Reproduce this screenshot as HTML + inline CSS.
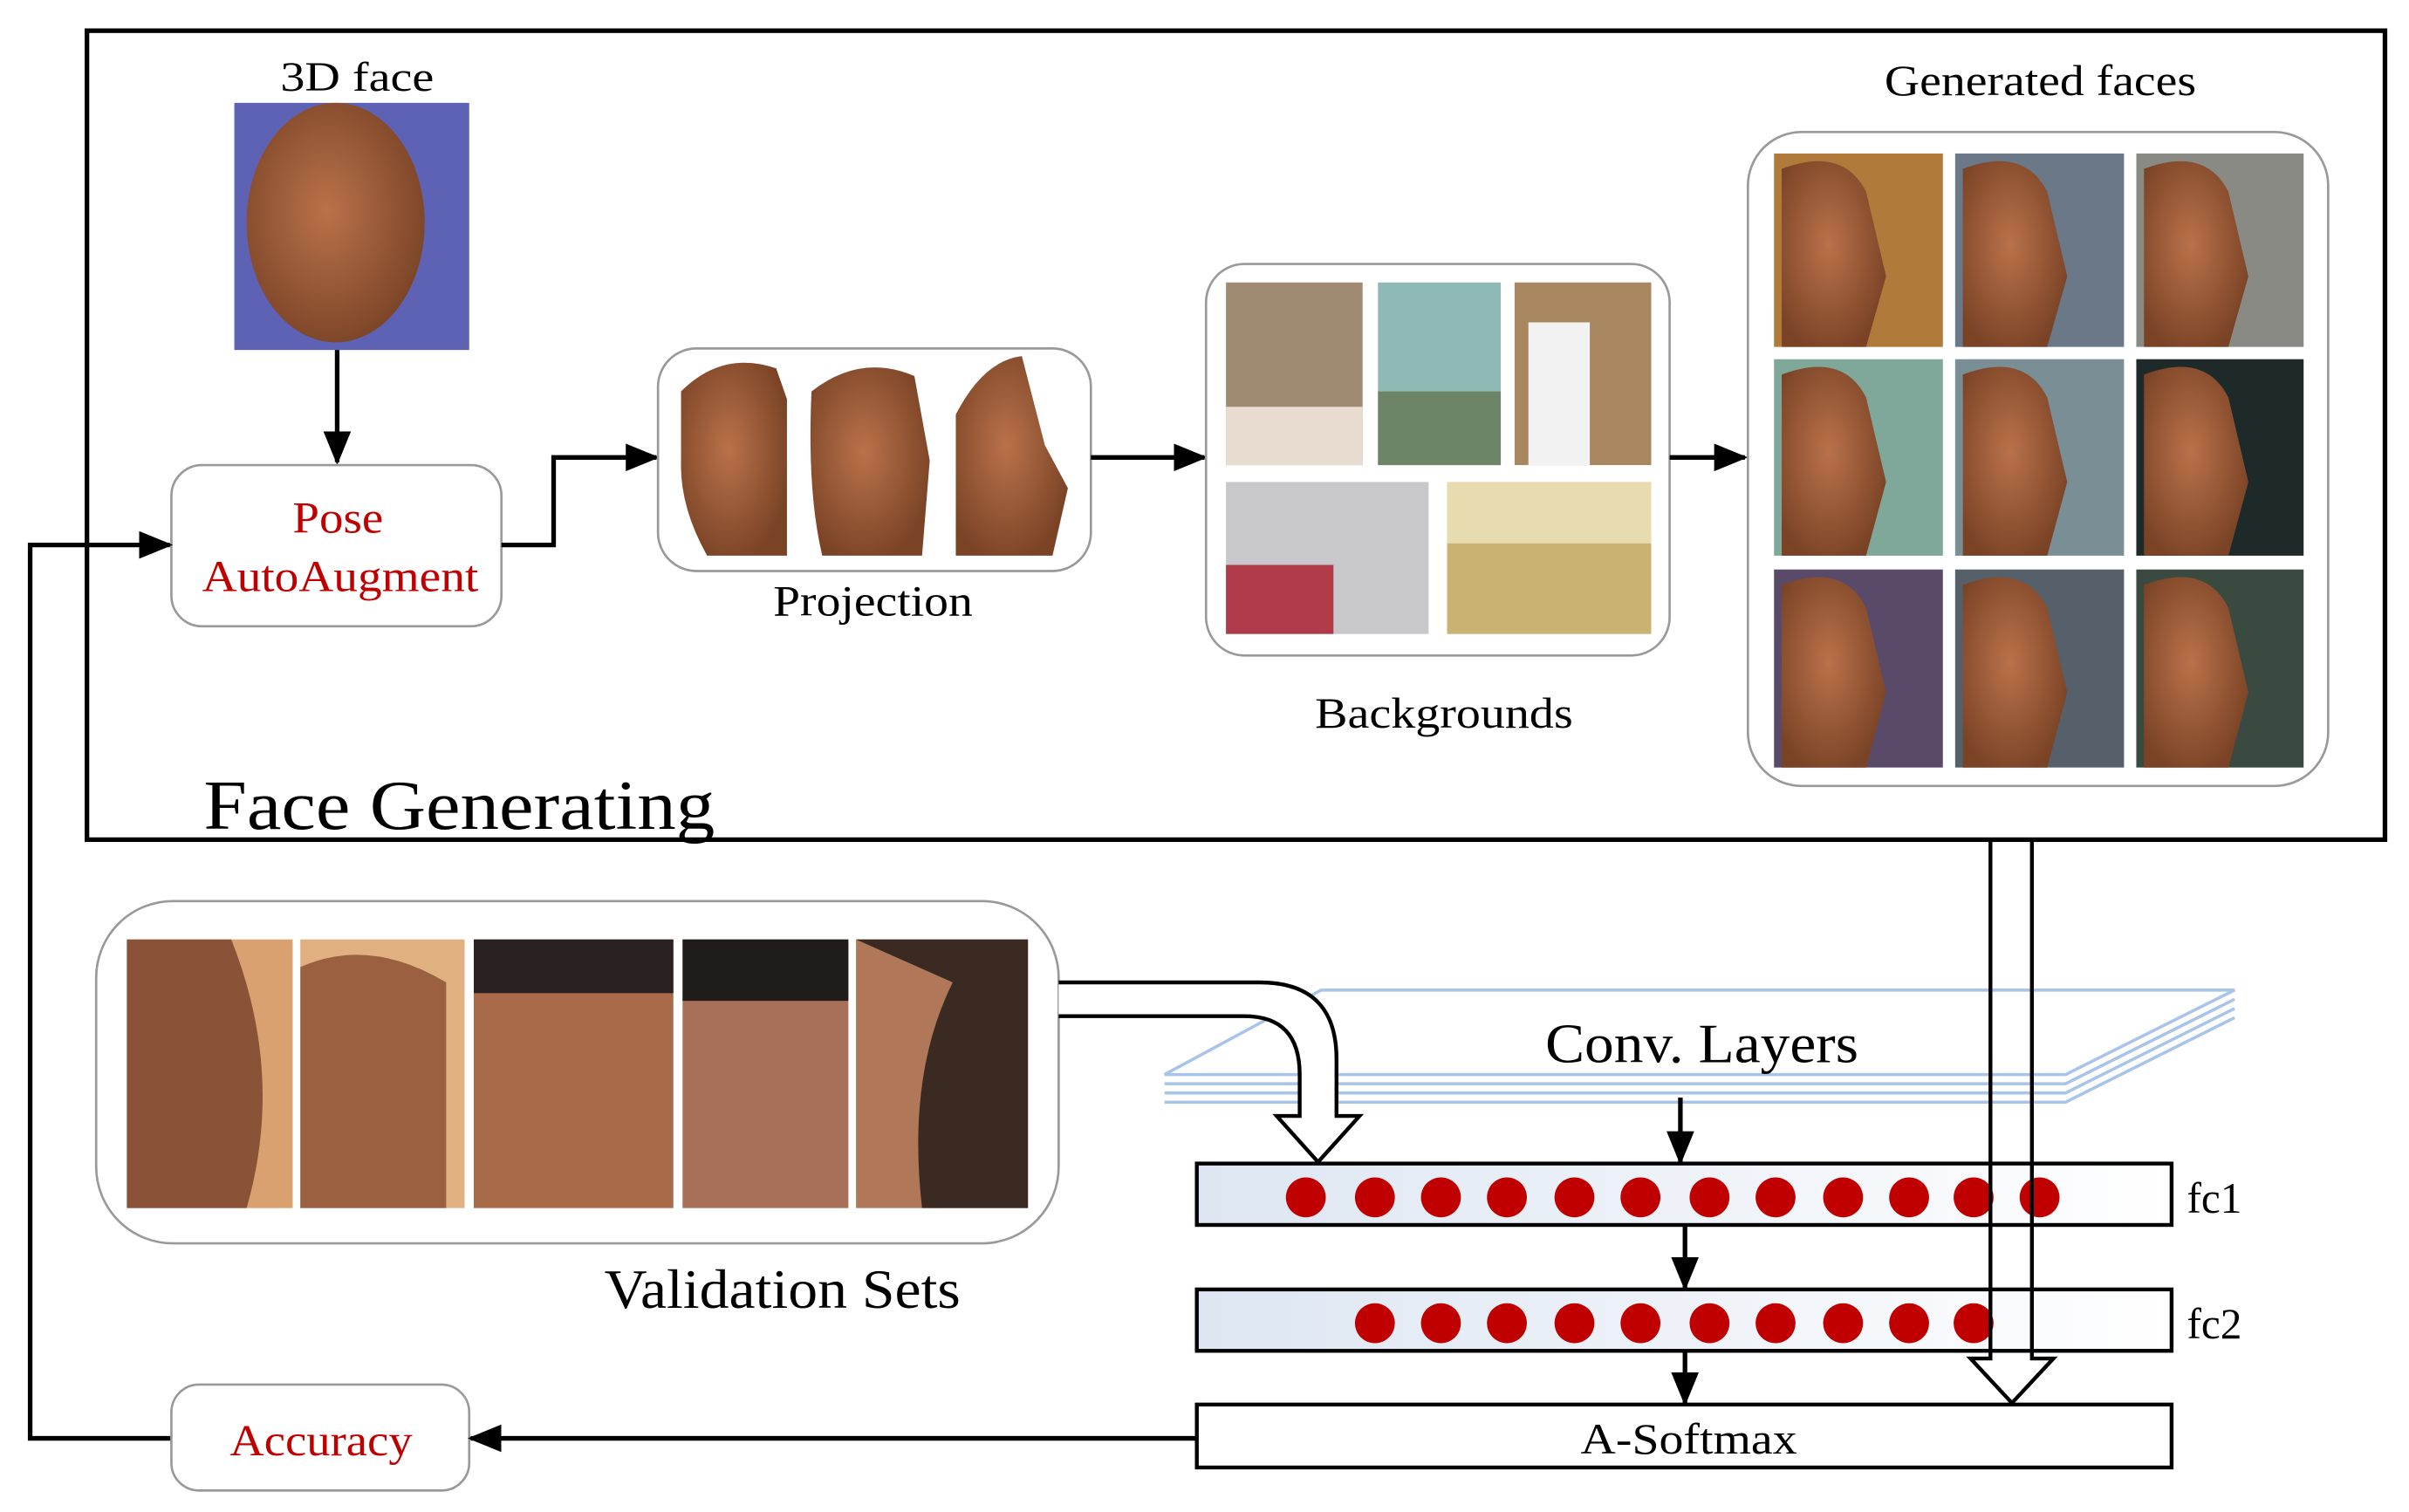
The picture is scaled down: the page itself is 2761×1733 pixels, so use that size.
<!DOCTYPE html>
<html><head><meta charset="utf-8"><style>
html,body{margin:0;padding:0;background:#fff;}
svg{display:block}
text{font-family:"Liberation Serif",serif;fill:#000}
</style></head><body>
<svg width="2761" height="1733" viewBox="0 0 1568 985" xmlns="http://www.w3.org/2000/svg">
<defs>
<marker id="ah" markerWidth="22" markerHeight="18" refX="20" refY="9" orient="auto" markerUnits="userSpaceOnUse" viewBox="0 0 22 18"><path d="M0,0 L22,9 L0,18 z" fill="#000"/></marker>
<linearGradient id="fcg" x1="0" x2="1"><stop offset="0" stop-color="#dde6f2"/><stop offset="1" stop-color="#ffffff"/></linearGradient>
<radialGradient id="skin" cx="0.45" cy="0.45" r="0.6"><stop offset="0" stop-color="#b9724a"/><stop offset="1" stop-color="#7a4326"/></radialGradient>
</defs>
<rect width="1568" height="985" fill="#fff"/>
<rect x="56" y="20" width="1497" height="527" fill="none" stroke="#000" stroke-width="3"/>
<text x="182" y="59" font-size="27" textLength="100" lengthAdjust="spacingAndGlyphs">3D face</text>
<rect x="152" y="67" width="153" height="161" fill="#5e62b4"/>
<ellipse cx="218" cy="145" rx="58" ry="78" fill="url(#skin)"/>
<line x1="219" y1="228" x2="219" y2="301" stroke="#000" stroke-width="3" marker-end="url(#ah)"/>
<rect x="111" y="303" width="215" height="105" rx="20" fill="#fff" stroke="#999" stroke-width="1.5"/>
<text x="190" y="347" font-size="29" textLength="59" lengthAdjust="spacingAndGlyphs" style="fill:#c00000">Pose</text>
<text x="131" y="385" font-size="29" textLength="180" lengthAdjust="spacingAndGlyphs" style="fill:#c00000">AutoAugment</text>
<polyline points="326,355 360,355 360,298 427,298" fill="none" stroke="#000" stroke-width="3" marker-end="url(#ah)"/>
<rect x="428" y="227" width="282" height="145" rx="25" fill="#fff" stroke="#999" stroke-width="1.5"/>
<path d="M443,255 Q470,228 505,240 L512,260 L512,362 L460,362 Q442,330 443,300 Z" fill="url(#skin)"/>
<path d="M528,255 Q560,230 595,245 L605,300 L600,362 L535,362 Q525,320 528,255 Z" fill="url(#skin)"/>
<path d="M622,270 Q640,235 665,232 L680,290 L695,318 L685,362 L622,362 Z" fill="url(#skin)"/>
<text x="503" y="401" font-size="28" textLength="130" lengthAdjust="spacingAndGlyphs">Projection</text>
<line x1="710" y1="298" x2="784" y2="298" stroke="#000" stroke-width="3" marker-end="url(#ah)"/>
<rect x="785" y="172" width="302" height="255" rx="25" fill="#fff" stroke="#999" stroke-width="1.5"/>
<rect x="798" y="184" width="89" height="119" fill="#a08a72"/><rect x="798" y="265" width="89" height="38" fill="#e8dcd0"/>
<rect x="897" y="184" width="80" height="119" fill="#8fb9b4"/><rect x="897" y="255" width="80" height="48" fill="#6e8466"/>
<rect x="986" y="184" width="89" height="119" fill="#a88660"/><rect x="995" y="210" width="40" height="93" fill="#f2f2f2"/>
<rect x="798" y="314" width="132" height="99" fill="#c8c8cc"/><rect x="798" y="368" width="70" height="45" fill="#b03a48"/>
<rect x="942" y="314" width="133" height="99" fill="#c9b272"/><rect x="942" y="314" width="133" height="40" fill="#e6dcb0"/>
<text x="856" y="474" font-size="28" textLength="168" lengthAdjust="spacingAndGlyphs">Backgrounds</text>
<line x1="1087" y1="298" x2="1136" y2="298" stroke="#000" stroke-width="3" marker-end="url(#ah)"/>
<text x="1227" y="62" font-size="28" textLength="203" lengthAdjust="spacingAndGlyphs">Generated faces</text>
<rect x="1138" y="86" width="378" height="426" rx="35" fill="#fff" stroke="#999" stroke-width="1.5"/>
<g>
<rect x="1155" y="100" width="110" height="126" fill="#b07a3a"/><rect x="1273" y="100" width="110" height="126" fill="#6a7888"/><rect x="1391" y="100" width="109" height="126" fill="#8a8a84"/>
<rect x="1155" y="234" width="110" height="128" fill="#7fa89a"/><rect x="1273" y="234" width="110" height="128" fill="#7a8e96"/><rect x="1391" y="234" width="109" height="128" fill="#1e2a2a"/>
<rect x="1155" y="371" width="110" height="129" fill="#5a4a6a"/><rect x="1273" y="371" width="110" height="129" fill="#56606a"/><rect x="1391" y="371" width="109" height="129" fill="#3a4a40"/>
<path d="M1160,110 Q1200,95 1215,125 L1228,180 L1215,226 L1160,226 Z" fill="url(#skin)"/>
<path d="M1278,110 Q1318,95 1333,125 L1346,180 L1333,226 L1278,226 Z" fill="url(#skin)"/>
<path d="M1396,110 Q1436,95 1451,125 L1464,180 L1451,226 L1396,226 Z" fill="url(#skin)"/>
<path d="M1160,244 Q1200,229 1215,259 L1228,314 L1215,362 L1160,362 Z" fill="url(#skin)"/>
<path d="M1278,244 Q1318,229 1333,259 L1346,314 L1333,362 L1278,362 Z" fill="url(#skin)"/>
<path d="M1396,244 Q1436,229 1451,259 L1464,314 L1451,362 L1396,362 Z" fill="url(#skin)"/>
<path d="M1160,381 Q1200,366 1215,396 L1228,451 L1215,500 L1160,500 Z" fill="url(#skin)"/>
<path d="M1278,381 Q1318,366 1333,396 L1346,451 L1333,500 L1278,500 Z" fill="url(#skin)"/>
<path d="M1396,381 Q1436,366 1451,396 L1464,451 L1451,500 L1396,500 Z" fill="url(#skin)"/>
</g>
<text x="132" y="540" font-size="46" textLength="333" lengthAdjust="spacingAndGlyphs">Face Generating</text>
<polyline points="111,937 19,937 19,355 110,355" fill="none" stroke="#000" stroke-width="3" marker-end="url(#ah)"/>
<rect x="62" y="587" width="627" height="223" rx="50" fill="#fff" stroke="#999" stroke-width="1.5"/>
<rect x="82" y="612" width="108" height="175" fill="#d9a070"/><path d="M82,612 L150,612 Q185,700 160,787 L82,787 Z" fill="#8a5236"/>
<rect x="195" y="612" width="107" height="175" fill="#e0b080"/><path d="M195,630 Q240,610 290,640 L290,787 L195,787 Z" fill="#9a6040"/>
<rect x="308" y="612" width="130" height="175" fill="#a86a48"/><rect x="308" y="612" width="130" height="35" fill="#2a2222"/>
<rect x="444" y="612" width="108" height="175" fill="#a87058"/><rect x="444" y="612" width="108" height="40" fill="#201c1c"/>
<rect x="557" y="612" width="112" height="175" fill="#b07858"/><path d="M557,612 L669,612 L669,787 L600,787 Q590,700 620,640 Z" fill="#3a2a22"/>
<text x="393" y="852" font-size="36" textLength="232" lengthAdjust="spacingAndGlyphs">Validation Sets</text>
<!-- conv layers -->
<g fill="none" stroke="#a8c4e8" stroke-width="2">
<path d="M758,700 L860,645 L1455,645 L1345,700 Z" fill="#fff"/>
<path d="M758,706 L1345,706 L1455,651"/>
<path d="M758,712 L1345,712 L1455,657"/>
<path d="M758,718 L1345,718 L1455,663"/>
</g>
<text x="1006" y="692" font-size="36" textLength="204" lengthAdjust="spacingAndGlyphs">Conv. Layers</text>
<!-- hollow curved arrow (on top) -->
<path d="M689,640 L820,640 Q870,640 870,690 L870,727 L885,727 L858,757 L831,727 L846,727 L846,700 Q846,662 810,662 L689,662" fill="#fff" stroke="#000" stroke-width="2.5"/>
<line x1="1094" y1="715" x2="1094" y2="757" stroke="#000" stroke-width="3" marker-end="url(#ah)"/>
<rect x="779" y="758" width="635" height="40" fill="url(#fcg)" stroke="#000" stroke-width="2.5"/>
<g fill="#c00000">
<circle cx="850" cy="780" r="13"/><circle cx="895" cy="780" r="13"/><circle cx="938" cy="780" r="13"/><circle cx="981" cy="780" r="13"/><circle cx="1025" cy="780" r="13"/><circle cx="1068" cy="780" r="13"/><circle cx="1113" cy="780" r="13"/><circle cx="1156" cy="780" r="13"/><circle cx="1200" cy="780" r="13"/><circle cx="1243" cy="780" r="13"/><circle cx="1285" cy="780" r="13"/><circle cx="1328" cy="780" r="13"/>
</g>
<text x="1424" y="790" font-size="28">fc1</text>
<line x1="1097" y1="798" x2="1097" y2="839" stroke="#000" stroke-width="3" marker-end="url(#ah)"/>
<rect x="779" y="840" width="635" height="40" fill="url(#fcg)" stroke="#000" stroke-width="2.5"/>
<g fill="#c00000">
<circle cx="895" cy="862" r="13"/><circle cx="938" cy="862" r="13"/><circle cx="981" cy="862" r="13"/><circle cx="1025" cy="862" r="13"/><circle cx="1068" cy="862" r="13"/><circle cx="1113" cy="862" r="13"/><circle cx="1156" cy="862" r="13"/><circle cx="1200" cy="862" r="13"/><circle cx="1243" cy="862" r="13"/><circle cx="1285" cy="862" r="13"/>
</g>
<text x="1424" y="872" font-size="28">fc2</text>
<line x1="1097" y1="880" x2="1097" y2="914" stroke="#000" stroke-width="3" marker-end="url(#ah)"/>
<rect x="779" y="915" width="635" height="41" fill="#fff" stroke="#000" stroke-width="2.5"/>
<text x="1029" y="947" font-size="28" textLength="141" lengthAdjust="spacingAndGlyphs">A-Softmax</text>
<path d="M1296,547 L1296,885 L1283,885 L1310,914 L1337,885 L1323,885 L1323,547" fill="none" stroke="#000" stroke-width="2.5"/>
<rect x="111" y="902" width="194" height="69" rx="18" fill="#fff" stroke="#999" stroke-width="1.5"/>
<text x="149" y="948" font-size="29" textLength="119" lengthAdjust="spacingAndGlyphs" style="fill:#c00000">Accuracy</text>
<line x1="779" y1="937" x2="306" y2="937" stroke="#000" stroke-width="3" marker-end="url(#ah)"/>
</svg>
</body></html>
